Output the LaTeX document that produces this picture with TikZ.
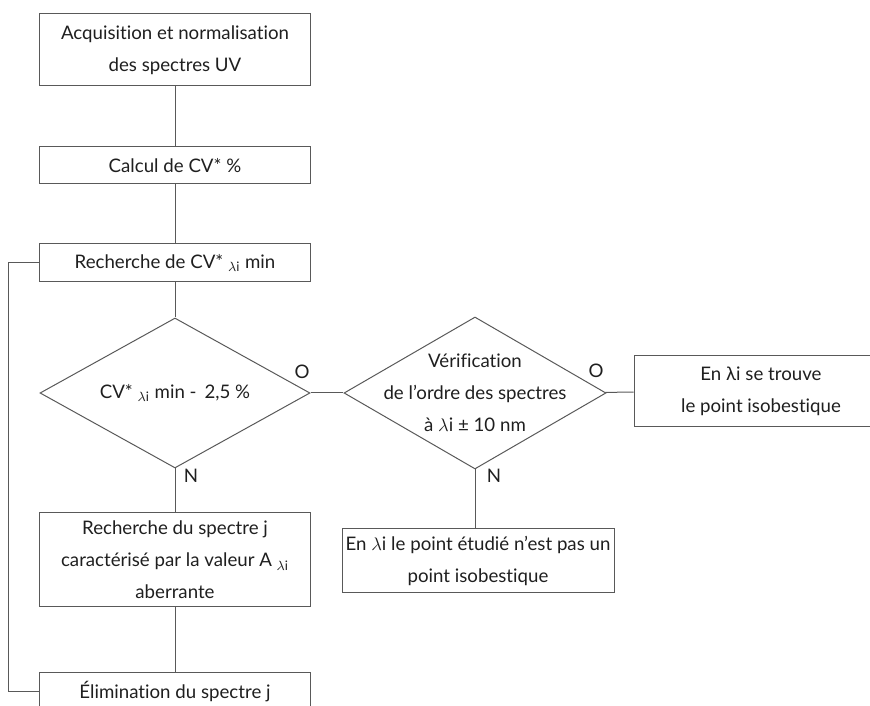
\documentclass[tikz,border=0pt]{standalone}
\usepackage{amsmath}
\usepackage{fontspec}
\setmainfont{Lato}[Ligatures = NoCommon]
\usepackage{tikz}
\usetikzlibrary{shapes.geometric}
\definecolor{mtrait}{rgb}{0.35, 0.35, 0.35}
\definecolor{mtexte}{rgb}{0.12, 0.12, 0.12}
\tikzset{police/.style = {text = mtexte, font = \fontsize{11.2}{19.2}\selectfont}}
\tikzset{bloc/.style = {draw = mtrait, rectangle, police, align = center,
                        minimum width = 163.2pt, inner sep = 0}}
\tikzset{losange/.style = {draw = mtrait, diamond, inner sep = 0}}
\tikzset{reponse/.style = {police, inner sep = 0}}
\newcommand{\lami}{$_{\lambda\text{i}}$}

\begin{document}
\begin{tikzpicture}[x = 0.6pt, y = -0.6pt, line width = 0.6pt, draw = mtrait]
      \useasboundingbox (0, 0) rectangle (870, 706);

      \node [bloc, minimum height = 43.2pt] (acq) at (175, 50)
            {Acquisition et normalisation\\des spectres UV};
      \node [bloc, minimum height = 22.2pt] (calc) at (175, 165.5) {Calcul de CV* \%};
      \node [bloc, minimum height = 22.8pt] (rech) at (175, 263)
            {Recherche de CV* \lami{} min};
      \node [losange, minimum width = 162pt, minimum height = 90pt,
             label = {[police, align = center]center:CV* \lami{} min -\, 2,5 \%}]
            (test) at (175, 393) {};
      \node [losange, minimum width = 157.2pt, minimum height = 91.2pt,
             label = {[police, align = center]center:Vérification\\de l’ordre des spectres\\à $\lambda$i ± 10 nm}]
            (verif) at (475, 393) {};
      \node [bloc, minimum width = 152.4pt, minimum height = 42.6pt] (iso) at (761, 391.5)
            {En λi se trouve\\le point isobestique};
      \node [bloc, minimum height = 56.4pt] (spec) at (175, 560)
            {Recherche du spectre j\\caractérisé par la valeur A \lami\\aberrante};
      \node [bloc, minimum height = 38.4pt] (noiso) at (478, 561)
            {En $\lambda$i le point étudié n’est pas un\\point isobestique};
      \node [bloc, minimum height = 22.8pt] (elim) at (175, 692) {Élimination du spectre j};
      \coordinate (retour) at (8, 263);

      \draw (acq) -- (calc);
      \draw (calc) -- (rech);
      \draw (rech) -- (test);
      \draw (test) -- (spec);
      \draw (spec) -- (elim);
      \draw (test) -- (verif);
      \draw (verif) -- (iso);
      \draw (verif.south) -- (verif.south |- noiso.north);
      \draw (rech.west) -- (retour) |- (elim.west);

      \node [reponse] (o1) at (302, 372) {O};
      \node [reponse] (n1) at (191, 476) {N};
      \node [reponse] (o2) at (596, 371) {O};
      \node [reponse] (n2) at (494, 476) {N};
\end{tikzpicture}
\end{document}
